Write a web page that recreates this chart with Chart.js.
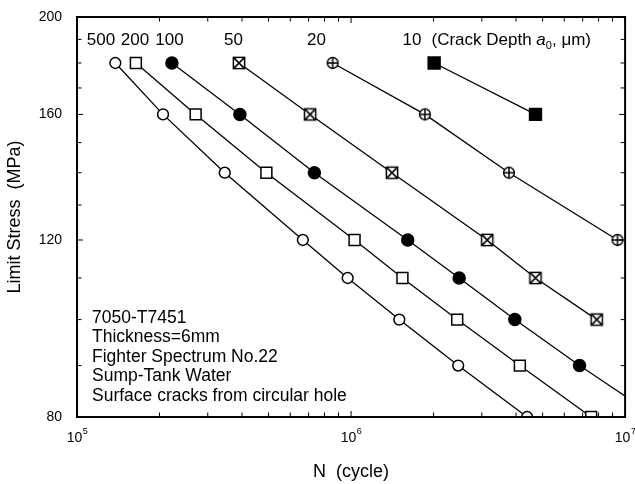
<!DOCTYPE html>
<html><head><meta charset="utf-8">
<script src="https://cdn.jsdelivr.net/npm/chart.js@4/dist/chart.umd.min.js"></script>
<style>html,body{margin:0;padding:0;background:#fff;overflow:hidden}#wrap{width:635px;height:484px;position:relative}canvas{display:block}</style>
</head><body><div id="wrap"><canvas id="c" width="635" height="484"></canvas></div>
<script>
// ---- data ----
const stressLevels = [180, 160, 140, 120, 110, 100, 90, 80];      // MPa
const cycles500 = [1.38e5, 2.06e5, 3.46e5, 6.67e5, 9.72e5, 1.50e6, 2.46e6, 4.39e6];
const cycles200 = [1.64e5, 2.71e5, 4.91e5, 1.03e6, 1.54e6, 2.44e6, 4.13e6, 7.52e6];
const cycles100 = [2.22e5, 3.93e5, 7.35e5, 1.61e6, 2.48e6, 3.96e6, 6.82e6, 1.30e7];
const cycles50  = [3.90e5, 7.09e5, 1.41e6, 3.14e6, 4.71e6, 7.88e6];
const cycles20  = [8.57e5, 1.86e6, 3.77e6, 9.38e6];
const cycles10  = [2.01e6, 4.71e6];
const depthLabels = ['500', '200', '100', '50', '20', '10'];
const yTickValues = [80, 120, 160, 200];
const yMinorValues = [90, 100, 110, 130, 140, 150, 170, 180, 190];
const xTickExponents = [5, 6, 7];
const noteLines = ['7050-T7451', 'Thickness=6mm', 'Fighter Spectrum No.22', 'Sump-Tank Water', 'Surface cracks from circular hole'];

const FONT = '"Liberation Sans", Arial, Helvetica, sans-serif';

function pts(cycles) { return cycles.map((n, i) => ({ x: n, y: stressLevels[i] })); }

function makeMarker(kind) {
  const s = 16, c = document.createElement('canvas');
  c.width = s; c.height = s;
  const g = c.getContext('2d');
  g.lineWidth = 1.5; g.strokeStyle = '#000'; g.fillStyle = '#fff';
  const m = s / 2;
  if (kind === 'xsq') {
    const h = 5.6;
    g.fillRect(m - h, m - h, 2 * h, 2 * h);
    g.strokeRect(m - h, m - h, 2 * h, 2 * h);
    g.beginPath();
    g.moveTo(m - h, m - h); g.lineTo(m + h, m + h);
    g.moveTo(m + h, m - h); g.lineTo(m - h, m + h);
    g.stroke();
  } else {
    const r = 5.4;
    g.beginPath(); g.arc(m, m, r, 0, Math.PI * 2); g.fill(); g.stroke();
    g.beginPath();
    g.moveTo(m - r, m); g.lineTo(m + r, m);
    g.moveTo(m, m - r); g.lineTo(m, m + r);
    g.stroke();
  }
  return c;
}

const base = { borderColor: '#000', borderWidth: 1.3, pointBorderColor: '#000', pointBorderWidth: 1.5, tension: 0, clip: 0, fill: false };

const datasets = [
  Object.assign({}, base, { label: depthLabels[0], data: pts(cycles500), pointStyle: 'circle', pointRadius: 5.4, pointBackgroundColor: '#fff' }),
  Object.assign({}, base, { label: depthLabels[1], data: pts(cycles200), pointStyle: 'rect', pointRadius: 7.7, pointBackgroundColor: '#fff' }),
  Object.assign({}, base, { label: depthLabels[2], data: pts(cycles100), pointStyle: 'circle', pointRadius: 6, pointBackgroundColor: '#000' }),
  Object.assign({}, base, { label: depthLabels[3], data: pts(cycles50), pointStyle: makeMarker('xsq'), pointRadius: 7 }),
  Object.assign({}, base, { label: depthLabels[4], data: pts(cycles20), pointStyle: makeMarker('pcirc'), pointRadius: 7 }),
  Object.assign({}, base, { label: depthLabels[5], data: pts(cycles10), pointStyle: 'rect', pointRadius: 8.4, pointBackgroundColor: '#000' })
];

const decor = {
  id: 'decor',
  afterDraw(chart) {
    const ctx = chart.ctx, a = chart.chartArea, xs = chart.scales.x, ys = chart.scales.y;
    ctx.save();
    // frame
    ctx.strokeStyle = '#000'; ctx.lineWidth = 2;
    ctx.strokeRect(a.left, a.top, a.right - a.left, a.bottom - a.top);
    // inward ticks
    ctx.lineWidth = 1;
    ctx.beginPath();
    const yt = (v, len) => { const y = ys.getPixelForValue(v); ctx.moveTo(a.left, y); ctx.lineTo(a.left + len, y); ctx.moveTo(a.right, y); ctx.lineTo(a.right - len, y); };
    yMinorValues.forEach(v => yt(v, 4.5));
    yTickValues.forEach(v => yt(v, 6));
    const xt = (v, len) => { const x = xs.getPixelForValue(v); ctx.moveTo(x, a.bottom); ctx.lineTo(x, a.bottom - len); ctx.moveTo(x, a.top); ctx.lineTo(x, a.top + len); };
    [1e5, 1e6].forEach(d => { for (let k = 2; k <= 9; k++) xt(k * d, 4.5); });
    xTickExponents.forEach(e => xt(Math.pow(10, e), 6));
    ctx.stroke();
    // x tick labels 10^n
    ctx.fillStyle = '#000'; ctx.textBaseline = 'middle'; ctx.textAlign = 'left';
    xTickExponents.forEach(e => {
      const x = xs.getPixelForValue(Math.pow(10, e));
      ctx.font = '14px ' + FONT; const w1 = ctx.measureText('10').width;
      ctx.font = '9px ' + FONT; const w2 = ctx.measureText(String(e)).width;
      const x0 = x - (w1 + w2) / 2;
      ctx.font = '14px ' + FONT; ctx.fillText('10', x0, a.bottom + 21);
      ctx.font = '9px ' + FONT; ctx.fillText(String(e), x0 + w1 + 0.5, a.bottom + 15);
    });
    // crack depth labels
    ctx.font = '17px ' + FONT; ctx.textAlign = 'center';
    const ly = a.top + 23;
    const lx = [101, 135, 169.5, 233.5, 316.5, 412];
    depthLabels.forEach((t, i) => ctx.fillText(t, lx[i], ly));
    ctx.textAlign = 'left';
    let cx = 431.5;
    ctx.font = '17px ' + FONT; ctx.fillText('(Crack Depth ', cx, ly); cx += ctx.measureText('(Crack Depth ').width;
    ctx.font = 'italic 17px ' + FONT; ctx.fillText('a', cx, ly); cx += ctx.measureText('a').width;
    ctx.font = '11px ' + FONT; ctx.fillText('0', cx, ly + 6); cx += ctx.measureText('0').width;
    ctx.font = '17px ' + FONT; ctx.fillText(', \u03bcm)', cx, ly);
    // notes
    ctx.font = '17.5px ' + FONT;
    noteLines.forEach((t, i) => ctx.fillText(t, 92, 318 + i * 19.5));
    ctx.restore();
  }
};

new Chart(document.getElementById('c'), {
  type: 'line',
  data: { datasets },
  options: {
    responsive: false, animation: false, devicePixelRatio: 1,
    layout: { padding: { left: 0, right: 8, top: 17, bottom: 0 } },
    plugins: { legend: { display: false }, tooltip: { enabled: false } },
    scales: {
      x: {
        type: 'logarithmic', min: 1e5, max: 1e7, position: 'bottom',
        grid: { display: false }, border: { display: false },
        ticks: { display: false },
        title: { display: true, text: 'N  (cycle)', color: '#000', font: { family: FONT, size: 18 }, padding: { top: 0, bottom: 1 } },
        afterFit(s) { s.height = 67; }
      },
      y: {
        type: 'logarithmic', min: 80, max: 200, position: 'left',
        grid: { display: false }, border: { display: false },
        afterBuildTicks(s) { s.ticks = yTickValues.map(v => ({ value: v })); },
        ticks: { color: '#000', padding: 7, font: { family: FONT, size: 14 }, callback: v => String(v) },
        title: { display: true, text: 'Limit Stress  (MPa)', color: '#000', font: { family: FONT, size: 18 }, padding: { top: 4, bottom: 0 } },
        afterFit(s) { s.width = 77; }
      }
    }
  },
  plugins: [decor]
});
</script>
</body></html>
